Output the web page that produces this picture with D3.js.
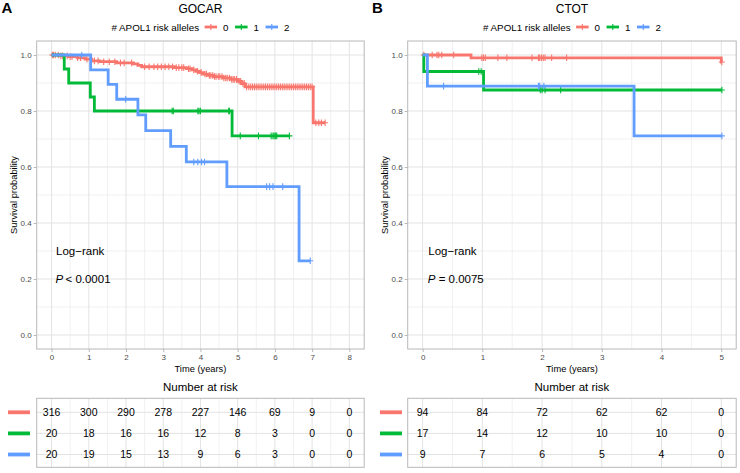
<!DOCTYPE html>
<html><head><meta charset="utf-8">
<script src="https://cdn.jsdelivr.net/npm/d3@7"></script>
<style>
html,body{margin:0;padding:0;background:#fff;}
svg{display:block;font-family:"Liberation Sans",Arial,Helvetica,sans-serif;}
</style></head>
<body>
<svg id="chart" width="740" height="473"></svg>
<script>
// ---------------- DATA ----------------
const groups = ["0", "1", "2"];
const groupColors = ["#F8766D", "#00BA38", "#619CFF"];
const legendTitle = "# APOL1 risk alleles";

// Panel A: GOCAR
const gocarTicks = [0, 1, 2, 3, 4, 5, 6, 7, 8];
const gocar0Times = [0, 0.2, 0.45, 0.7, 0.9, 1.08, 1.3, 1.75, 2.2, 2.32, 2.42, 3.3, 3.62, 3.78, 3.88, 3.98, 4.08, 4.2, 4.35, 4.6, 4.8, 5.0, 5.1, 5.2, 7.03];
const gocar0Surv  = [1, 0.997, 0.994, 0.99, 0.985, 0.979, 0.976, 0.972, 0.968, 0.963, 0.958, 0.955, 0.951, 0.947, 0.942, 0.937, 0.932, 0.927, 0.923, 0.918, 0.913, 0.906, 0.898, 0.886, 0.758];
const gocar0End = 7.35;
const gocar0Censor = [0.02,0.05,0.1,0.18,0.25,0.3,0.42,0.5,0.55,0.7,0.78,0.95,1.15,1.25,1.4,1.55,1.7,1.85,1.95,2.15,2.5,2.62,2.75,2.85,2.95,3.05,3.15,3.25,3.35,3.42,3.5,3.55,3.68,3.72,3.82,3.92,4.02,4.12,4.16,4.24,4.28,4.33,4.38,4.42,4.48,4.52,4.58,4.63,4.68,4.72,4.78,4.84,4.88,4.92,4.97,5.04,5.08,5.14,5.18,5.24,5.3,5.35,5.4,5.45,5.5,5.55,5.6,5.65,5.7,5.75,5.8,5.85,5.9,5.95,6.0,6.05,6.1,6.15,6.2,6.25,6.3,6.35,6.4,6.45,6.5,6.55,6.6,6.65,6.7,6.75,6.8,6.85,6.9,6.95,7.0,7.1,7.18,7.25,7.35];

const gocar1Times = [0, 0.34, 0.46, 1.04, 1.15, 4.85];
const gocar1Surv  = [1, 0.95, 0.9, 0.85, 0.8, 0.711];
const gocar1End = 6.39;
const gocar1Censor = [3.24, 3.27, 3.93, 3.96, 4.0, 4.76, 4.78, 5.07, 5.56, 5.9, 5.95, 5.98, 6.02, 6.05, 6.39];

const gocar2Times = [0, 1.05, 1.52, 1.75, 2.32, 2.53, 3.2, 3.62, 4.71, 6.65];
const gocar2Surv  = [1, 0.947, 0.895, 0.842, 0.786, 0.73, 0.674, 0.618, 0.53, 0.265];
const gocar2End = 6.95;
const gocar2Censor = [0.81, 1.99, 3.82, 3.93, 4.03, 4.11, 5.78, 5.86, 5.95, 6.21, 6.95];

const gocarRisk0 = [316, 300, 290, 278, 227, 146, 69, 9, 0];
const gocarRisk1 = [20, 18, 16, 16, 12, 8, 3, 0, 0];
const gocarRisk2 = [20, 19, 15, 13, 9, 6, 3, 0, 0];

// Panel B: CTOT
const ctotTicks = [0, 1, 2, 3, 4, 5];
const ctot0Times = [0, 0.81, 5.0];
const ctot0Surv  = [1, 0.99, 0.975];
const ctot0End = 5.01;
const ctot0Censor = [0.02, 0.16, 0.24, 0.27, 0.32, 0.52, 0.99, 1.02, 1.05, 1.26, 1.41, 1.83, 1.94, 1.96, 1.99, 2.02, 2.05, 2.16, 2.41, 5.01];

const ctot1Times = [0, 0.02, 1.02];
const ctot1Surv  = [1, 0.941, 0.875];
const ctot1End = 5.01;
const ctot1Censor = [0.94, 0.98, 1.97, 2.0, 2.05, 2.31, 5.01];

const ctot2Times = [0, 0.08, 3.54];
const ctot2Surv  = [1, 0.889, 0.711];
const ctot2End = 5.01;
const ctot2Censor = [0.35, 1.94, 1.96, 2.03, 5.01];

const ctotRisk0 = [94, 84, 72, 62, 62, 0];
const ctotRisk1 = [17, 14, 12, 10, 10, 0];
const ctotRisk2 = [9, 7, 6, 5, 4, 0];

const yTicks = [0, 0.2, 0.4, 0.6, 0.8, 1.0];
const yMinor = [0.1, 0.3, 0.5, 0.7, 0.9];

// ---------------- DRAW ----------------
const svg = d3.select("#chart");
const FONT = '"Liberation Sans",Arial,Helvetica,sans-serif';
const BORDER = "#b8b8b8", GRID = "#e3e3e3", TICKTXT = "#4d4d4d";

const y = d3.scaleLinear().domain([-0.05, 1.05]).range([349, 41]);

function makeSeries(times, surv, end, censor) {
  const pts = times.map((t, i) => ({t, s: surv[i]}));
  pts.push({t: end, s: surv[surv.length - 1]});
  const sAt = t => { let v = surv[0]; times.forEach((tt, i) => { if (tt <= t) v = surv[i]; }); return v; };
  return {pts, cens: censor.map(t => ({t, s: sAt(t)}))};
}

function drawPanel(cfg) {
  const g = svg.append("g");
  const x = d3.scaleLinear().domain(cfg.xdom).range(cfg.xrange);
  const [x0, x1] = cfg.xrange;
  const cx = (x0 + x1) / 2;
  const step = cfg.ticks[1] - cfg.ticks[0];
  const minorX = cfg.ticks.slice(0, -1).map(t => t + step / 2);

  // panel letter & title
  g.append("text").attr("x", cfg.letterX).attr("y", 12.5).attr("font-size", 15).attr("font-weight", "bold").text(cfg.letter);
  g.append("text").attr("x", cx).attr("y", 12.7).attr("text-anchor", "middle").attr("font-size", 12).text(cfg.title);

  // legend
  const leg = g.append("g");
  let lx = 0;
  const lt = leg.append("text").attr("x", 0).attr("y", 30.5).attr("font-size", 9.8).text(legendTitle);
  lx = lt.node().getComputedTextLength() + 5.5;
  groups.forEach((gr, i) => {
    leg.append("line").attr("x1", lx).attr("x2", lx + 12.5).attr("y1", 27).attr("y2", 27)
      .attr("stroke", groupColors[i]).attr("stroke-width", 2.8);
    leg.append("path").attr("d", `M${lx + 6.25},24v6M${lx + 3.25},27h6`).attr("stroke", groupColors[i]).attr("stroke-width", 1.1).attr("fill", "none");
    lx += 12.5 + 6;
    const t = leg.append("text").attr("x", lx).attr("y", 30.5).attr("font-size", 9.8).text(gr);
    lx += t.node().getComputedTextLength() + 6.5;
  });
  lx -= 6.5;
  leg.attr("transform", `translate(${cx - lx / 2},0)`);

  // grid
  const grid = g.append("g");
  yMinor.forEach(v => grid.append("line").attr("x1", x0).attr("x2", x1).attr("y1", y(v)).attr("y2", y(v)).attr("stroke", GRID).attr("stroke-width", 0.5));
  minorX.forEach(v => grid.append("line").attr("x1", x(v)).attr("x2", x(v)).attr("y1", 41).attr("y2", 349).attr("stroke", GRID).attr("stroke-width", 0.5));
  yTicks.forEach(v => grid.append("line").attr("x1", x0).attr("x2", x1).attr("y1", y(v)).attr("y2", y(v)).attr("stroke", GRID).attr("stroke-width", 1));
  cfg.ticks.forEach(v => grid.append("line").attr("x1", x(v)).attr("x2", x(v)).attr("y1", 41).attr("y2", 349).attr("stroke", GRID).attr("stroke-width", 1));

  // curves
  const line = d3.line().x(d => x(d.t)).y(d => y(d.s)).curve(d3.curveStepAfter);
  cfg.series.forEach((s, i) => {
    g.append("path").attr("d", line(s.pts)).attr("fill", "none").attr("stroke", groupColors[i]).attr("stroke-width", 2.8);
    g.append("g").selectAll("path").data(s.cens).join("path")
      .attr("d", d => `M${x(d.t)},${y(d.s) - 3.3}v6.6M${x(d.t) - 3},${y(d.s)}h6`)
      .attr("stroke", groupColors[i]).attr("stroke-width", 1.1).attr("fill", "none");
  });

  // border
  g.append("rect").attr("x", x0).attr("y", 41).attr("width", x1 - x0).attr("height", 308).attr("fill", "none").attr("stroke", BORDER).attr("stroke-width", 1);

  // y axis
  const yAx = g.append("g").attr("transform", `translate(${x0},0)`).call(d3.axisLeft(y).tickValues(yTicks).tickFormat(d3.format(".1f")).tickSize(3).tickPadding(2));
  yAx.select(".domain").remove();
  yAx.selectAll("line").attr("stroke", BORDER);
  yAx.selectAll("text").attr("fill", TICKTXT).attr("font-size", 8).attr("font-family", FONT);

  // x axis
  const xAx = g.append("g").attr("transform", `translate(0,349)`).call(d3.axisBottom(x).tickValues(cfg.ticks).tickFormat(d3.format("d")).tickSize(3).tickPadding(2));
  xAx.select(".domain").remove();
  xAx.selectAll("line").attr("stroke", BORDER);
  xAx.selectAll("text").attr("fill", TICKTXT).attr("font-size", 8).attr("font-family", FONT);

  g.append("text").attr("x", cx).attr("y", 371.5).attr("text-anchor", "middle").attr("font-size", 9.3).text("Time (years)");
  g.append("text").attr("transform", `translate(${cfg.yTitleX},195) rotate(-90)`).attr("text-anchor", "middle").attr("font-size", 9.3).text("Survival probability");

  // annotation
  g.append("text").attr("x", cfg.annX).attr("y", y(0.3) + 4).attr("font-size", 11.5).text("Log\u2212rank");
  const pt = g.append("text").attr("x", cfg.annX - 0.5).attr("y", y(0.2) + 4).attr("font-size", 11.5);
  pt.append("tspan").attr("font-style", "italic").text("P");
  pt.append("tspan").text(cfg.pText);

  // risk table
  g.append("text").attr("x", cx).attr("y", 391).attr("text-anchor", "middle").attr("font-size", 11.5).text("Number at risk");
  const ty = d3.scalePoint().domain(groups).range([412.3, 454.5]);
  const tg = g.append("g");
  minorX.forEach(v => tg.append("line").attr("x1", x(v)).attr("x2", x(v)).attr("y1", 398.3).attr("y2", 467.3).attr("stroke", GRID).attr("stroke-width", 0.5));
  cfg.ticks.forEach(v => tg.append("line").attr("x1", x(v)).attr("x2", x(v)).attr("y1", 398.3).attr("y2", 467.3).attr("stroke", GRID).attr("stroke-width", 1));
  groups.forEach(gr => tg.append("line").attr("x1", x0).attr("x2", x1).attr("y1", ty(gr)).attr("y2", ty(gr)).attr("stroke", GRID).attr("stroke-width", 1));
  tg.append("rect").attr("x", x0).attr("y", 398.3).attr("width", x1 - x0).attr("height", 69).attr("fill", "none").attr("stroke", BORDER).attr("stroke-width", 1);
  cfg.risk.forEach((row, i) => {
    tg.append("line").attr("x1", cfg.keyX[0]).attr("x2", cfg.keyX[1]).attr("y1", ty(groups[i])).attr("y2", ty(groups[i]))
      .attr("stroke", groupColors[i]).attr("stroke-width", 3.8);
    tg.append("g").selectAll("text").data(row).join("text")
      .attr("x", (d, j) => x(cfg.ticks[j])).attr("y", ty(groups[i]) + 3.9)
      .attr("text-anchor", "middle").attr("font-size", 10.5).text(d => d);
  });
}

drawPanel({
  letter: "A", letterX: 1.5, title: "GOCAR",
  xdom: [-0.4, 8.4], xrange: [36.7, 364.2], ticks: gocarTicks,
  series: [
    makeSeries(gocar0Times, gocar0Surv, gocar0End, gocar0Censor),
    makeSeries(gocar1Times, gocar1Surv, gocar1End, gocar1Censor),
    makeSeries(gocar2Times, gocar2Surv, gocar2End, gocar2Censor)
  ],
  yTitleX: 16.5, annX: 56, pText: "\u2009< 0.0001",
  risk: [gocarRisk0, gocarRisk1, gocarRisk2], keyX: [8, 30]
});

drawPanel({
  letter: "B", letterX: 372, title: "CTOT",
  xdom: [-0.25, 5.25], xrange: [407.7, 736.2], ticks: ctotTicks,
  series: [
    makeSeries(ctot0Times, ctot0Surv, ctot0End, ctot0Censor),
    makeSeries(ctot1Times, ctot1Surv, ctot1End, ctot1Censor),
    makeSeries(ctot2Times, ctot2Surv, ctot2End, ctot2Censor)
  ],
  yTitleX: 388, annX: 428.3, pText: " = 0.0075",
  risk: [ctotRisk0, ctotRisk1, ctotRisk2], keyX: [380, 402]
});
</script>
</body></html>
